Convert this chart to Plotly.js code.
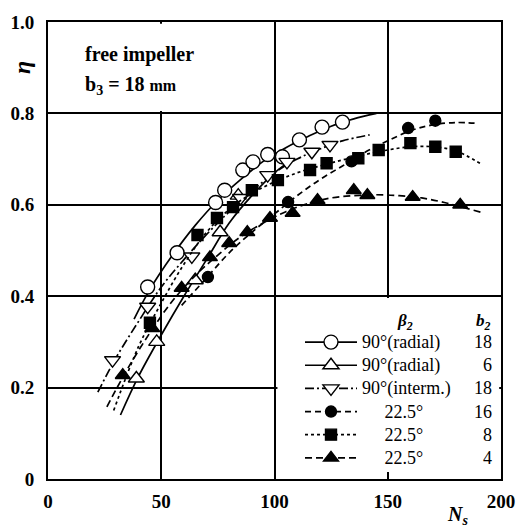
<!DOCTYPE html>
<html>
<head>
<meta charset="utf-8">
<script src="https://cdn.plot.ly/plotly-3.0.1.min.js"></script>
<style>html,body{margin:0;padding:0;background:#fff;}#chart{width:521px;height:531px;}</style>
</head>
<body>
<div id="chart"></div>
<script>
// ---- measured points (Ns, eta) ----
const radial18X = [44, 57, 74, 78, 86, 90.5, 97, 103.5, 111, 121, 130];
const radial18Y = [0.42, 0.495, 0.605, 0.632, 0.676, 0.694, 0.71, 0.705, 0.742, 0.77, 0.781];
const radial6X = [39, 48, 65, 76, 84];
const radial6Y = [0.22, 0.30, 0.435, 0.54, 0.62];
const interm18X = [28.5, 44, 63.5, 85, 97, 105.5, 116.5, 124.5];
const interm18Y = [0.26, 0.377, 0.487, 0.615, 0.665, 0.694, 0.716, 0.731];
const b16X = [70.6, 106, 134, 159, 171];
const b16Y = [0.442, 0.606, 0.695, 0.768, 0.784];
const b8X = [45, 66, 74.6, 81.7, 90, 101.5, 115.7, 123, 137, 146, 160, 171, 180];
const b8Y = [0.342, 0.534, 0.571, 0.595, 0.632, 0.654, 0.676, 0.691, 0.702, 0.72, 0.735, 0.727, 0.716];
const b4X = [33, 46, 59, 71.5, 80, 88, 98, 108, 119, 135, 141, 161, 182];
const b4Y = [0.227, 0.33, 0.418, 0.485, 0.516, 0.54, 0.571, 0.582, 0.61, 0.632, 0.621, 0.617, 0.60];

// ---- fitted curves ----
const radial18FitX = [38, 45, 55, 65, 75, 85, 95, 105, 115, 125, 135, 145];
const radial18FitY = [0.35, 0.415, 0.49, 0.555, 0.61, 0.655, 0.695, 0.725, 0.75, 0.772, 0.788, 0.80];
const radial6FitX = [32, 40, 50, 60, 70, 80, 90, 100, 108];
const radial6FitY = [0.14, 0.225, 0.315, 0.40, 0.48, 0.56, 0.62, 0.67, 0.70];
const interm18FitX = [22, 30, 40, 50, 60, 70, 80, 90, 100, 110, 120, 130, 142];
const interm18FitY = [0.19, 0.265, 0.345, 0.42, 0.48, 0.535, 0.585, 0.63, 0.67, 0.70, 0.722, 0.74, 0.753];
const b16FitX = [59, 70, 80, 90, 100, 110, 120, 130, 140, 150, 160, 170, 180, 190];
const b16FitY = [0.38, 0.44, 0.495, 0.54, 0.58, 0.62, 0.655, 0.685, 0.715, 0.74, 0.762, 0.775, 0.78, 0.778];
const b8FitX = [29, 40, 50, 60, 70, 80, 90, 100, 110, 120, 130, 140, 150, 160, 170, 180, 191];
const b8FitY = [0.15, 0.29, 0.385, 0.47, 0.54, 0.59, 0.625, 0.65, 0.67, 0.685, 0.698, 0.71, 0.72, 0.727, 0.727, 0.718, 0.69];
const b4FitX = [26, 35, 45, 55, 65, 75, 85, 95, 105, 115, 125, 135, 145, 155, 165, 175, 185, 191];
const b4FitY = [0.158, 0.24, 0.32, 0.39, 0.445, 0.49, 0.53, 0.56, 0.585, 0.603, 0.615, 0.62, 0.622, 0.62, 0.615, 0.605, 0.592, 0.584];

// ---- legend / labels ----
const betaLabels = ['90°(radial)', '90°(radial)', '90°(interm.)', '22.5°', '22.5°', '22.5°'];
const betaPad = [0, 0, 0, 5, 5, 5];
const b2Labels = ['18', '6', '18', '16', '8', '4'];
const xTickVals = [0, 50, 100, 150, 200];
const xTickText = ['0', '50', '100', '150', '200'];
const yTickVals = [0, 0.2, 0.4, 0.6, 0.8, 1.0];
const yTickText = ['0', '0.2', '0.4', '0.6', '0.8', '1.0'];

const series = [
  {px: radial18X, py: radial18Y, fx: radial18FitX, fy: radial18FitY, sym: 'circle', size: 14, dash: 'solid', fill: '#fff'},
  {px: radial6X, py: radial6Y, fx: radial6FitX, fy: radial6FitY, sym: 'triangle-up', size: 14, dash: 'solid', fill: '#fff'},
  {px: interm18X, py: interm18Y, fx: interm18FitX, fy: interm18FitY, sym: 'triangle-down', size: 14, dash: '9px,3px,2px,3px', fill: '#fff'},
  {px: b16X, py: b16Y, fx: b16FitX, fy: b16FitY, sym: 'circle', size: 11, dash: '6px,4px', fill: '#000'},
  {px: b8X, py: b8Y, fx: b8FitX, fy: b8FitY, sym: 'square', size: 11, dash: '3px,3px', fill: '#000'},
  {px: b4X, py: b4Y, fx: b4FitX, fy: b4FitY, sym: 'triangle-up', size: 13, dash: '7px,4px', fill: '#000'}
];

const traces = [];
series.forEach((s, i) => {
  traces.push({x: s.fx, y: s.fy, mode: 'lines', line: {color: '#000', width: 1.7, dash: s.dash, shape: 'spline'}, showlegend: false, hoverinfo: 'skip'});
  traces.push({x: s.px, y: s.py, mode: 'markers', marker: {symbol: s.sym, size: s.size, color: s.fill, line: {color: '#000', width: 1.4}}, showlegend: false});
  const name = '<span style="font-size:18px">' + '\u00a0'.repeat(betaPad[i]) + betaLabels[i] + '</span>';
  traces.push({x: [null], y: [null], mode: 'lines+markers', name: name,
    line: {color: '#000', width: 1.7, dash: s.dash}, marker: {symbol: s.sym, size: s.size, color: s.fill, line: {color: '#000', width: 1.4}}, showlegend: true});
});

const serif = 'Liberation Serif, Times New Roman, serif';
const rowPx = [342, 365.2, 388.3, 411.5, 434.6, 457.8];
const rowY = rowPx.map(p => (479 - p) / 457);
const annotations = [
  {xref: 'paper', yref: 'paper', x: -0.059, y: 0.90, xanchor: 'center', yanchor: 'middle', text: '<i>η</i>', showarrow: false, textangle: -90, font: {family: serif, size: 24, weight: 'bold', color: '#000'}},
  {xref: 'paper', yref: 'paper', x: 0.903, y: -0.079, xanchor: 'center', yanchor: 'middle', text: '<i>N<sub>s</sub></i>', showarrow: false, font: {family: serif, size: 20, weight: 'bold', color: '#000'}},
  {xref: 'paper', yref: 'paper', x: 0.077, y: 0.928, xanchor: 'left', yanchor: 'middle', text: 'free impeller', showarrow: false, font: {family: serif, size: 20, weight: 'bold', color: '#000'}},
  {xref: 'paper', yref: 'paper', x: 0.077, y: 0.862, xanchor: 'left', yanchor: 'middle', text: 'b<sub>3</sub> = 18 <span style="font-size:16px">mm</span>', showarrow: false, font: {family: serif, size: 20, weight: 'bold', color: '#000'}},
  {xref: 'paper', yref: 'paper', x: 0.788, y: 0.3435, xanchor: 'center', yanchor: 'middle', text: '<i>β<sub>2</sub></i>', showarrow: false, font: {family: serif, size: 17, weight: 'bold', color: '#000'}},
  {xref: 'paper', yref: 'paper', x: 0.962, y: 0.3435, xanchor: 'center', yanchor: 'middle', text: '<i>b<sub>2</sub></i>', showarrow: false, font: {family: serif, size: 17, weight: 'bold', color: '#000'}}
];
b2Labels.forEach((t, i) => {
  annotations.push({xref: 'paper', yref: 'paper', x: 0.985, y: rowY[i], xanchor: 'right', yanchor: 'middle', text: t, showarrow: false, font: {family: serif, size: 18, color: '#000'}});
});

const layout = {
  width: 521, height: 531,
  margin: {l: 48, r: 20, t: 22, b: 52},
  paper_bgcolor: '#fff', plot_bgcolor: '#fff',
  font: {family: serif, color: '#000'},
  xaxis: {range: [0, 200], tickvals: xTickVals, ticktext: xTickText, showgrid: true, gridcolor: '#000', gridwidth: 2,
    showline: true, mirror: true, linecolor: '#000', linewidth: 2, zeroline: false, ticks: 'inside', ticklen: 7, tickwidth: 1.5, tickcolor: '#000',
    ticklabelstandoff: 4, tickfont: {family: serif, size: 19, weight: 'bold', color: '#000'}, fixedrange: true},
  yaxis: {range: [0, 1], tickvals: yTickVals, ticktext: yTickText, showgrid: true, gridcolor: '#000', gridwidth: 2,
    showline: true, mirror: true, linecolor: '#000', linewidth: 2, zeroline: false, ticks: 'inside', ticklen: 7, tickwidth: 1.5, tickcolor: '#000',
    ticklabelstandoff: 8, tickfont: {family: serif, size: 19, weight: 'bold', color: '#000'}, fixedrange: true},
  shapes: [
    {type: 'rect', layer: 'between', xref: 'x', yref: 'y', x0: 0.8, x1: 98, y0: 0.805, y1: 0.996, fillcolor: '#fff', line: {width: 0}},
    {type: 'rect', layer: 'between', xref: 'x', yref: 'y', x0: 101.3, x1: 199.2, y0: 0.004, y1: 0.396, fillcolor: '#fff', line: {width: 0}}
  ],
  legend: {x: (300 - 48) / 453, y: (479 - 325.5) / 457, xanchor: 'left', yanchor: 'top', bgcolor: 'rgba(0,0,0,0)', borderwidth: 0,
    font: {family: serif, size: 15.5, color: '#000'}, tracegroupgap: 0, itemwidth: 52},
  annotations: annotations,
  showlegend: true
};

Plotly.newPlot('chart', traces, layout, {staticPlot: true, displayModeBar: false});
</script>
</body>
</html>
